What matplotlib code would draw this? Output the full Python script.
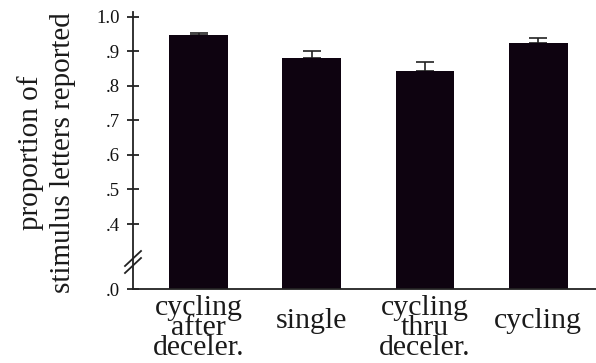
import matplotlib
matplotlib.use("Agg")
import matplotlib.pyplot as plt
import matplotlib.transforms as mtransforms
import numpy as np

# Data
conditions = ["cycling\nafter\ndeceler.", "single", "cycling\nthru\ndeceler.", "cycling"]
proportions = [0.946, 0.881, 0.843, 0.923]
errors_upper = [0.008, 0.020, 0.025, 0.015]
tick_values = [0.0, 0.4, 0.5, 0.6, 0.7, 0.8, 0.9, 1.0]
tick_labels = [".0", ".4", ".5", ".6", ".7", ".8", ".9", "1.0"]

BAR_COLOR = "#0e0310"
INK = "#1a1a1a"
SERIF = ["Liberation Serif", "DejaVu Serif"]

# Broken axis: the span 0 .. 0.4 is compressed into a short segment
BREAK = 0.4
LOW_POS = 0.212


def forward(y):
    y = np.asarray(y, dtype=float)
    return np.where(y >= BREAK, y, LOW_POS + y * (BREAK - LOW_POS) / BREAK)


def inverse(v):
    v = np.asarray(v, dtype=float)
    return np.where(v >= BREAK, v, (v - LOW_POS) * BREAK / (BREAK - LOW_POS))


W, H = 596, 363
AX_L, AX_B, AX_T = 133, 289, 12
fig = plt.figure(figsize=(W / 100, H / 100), dpi=100)
ax = fig.add_axes([AX_L / W, (H - AX_B) / H, (W - AX_L) / W, (AX_B - AX_T) / H])
ax.set_yscale("function", functions=(forward, inverse))

x = np.arange(len(conditions))
ax.bar(x, proportions, width=0.52, color=BAR_COLOR, zorder=2)
ax.errorbar(x, proportions, yerr=[np.zeros(len(errors_upper)), errors_upper],
            fmt="none", ecolor="#222222", elinewidth=1.2, capsize=6.5,
            capthick=1.2, zorder=1)

ax.set_xlim(-0.579, 3.51)
ax.set_ylim(0.0, 1.0136)

for side in ("top", "right"):
    ax.spines[side].set_visible(False)
for side in ("left", "bottom"):
    ax.spines[side].set_linewidth(1.3)
    ax.spines[side].set_color("#222222")

ax.set_yticks(tick_values)
ax.set_yticklabels(tick_labels, fontfamily=SERIF, fontsize=13.5, color="#111111")
ax.tick_params(axis="y", direction="inout", length=9, width=1.3,
               color="#222222", pad=5)
ax.set_xticks([])

# Break marks on the y axis (two short parallel slashes)
ax_w = W - AX_L
ax_h = AX_B - AX_T
yc = 27 / ax_h
for dy in (-3.5, 3.5):
    ax.plot([-8 / ax_w, 8 / ax_w],
            [yc + (dy - 7.5) / ax_h, yc + (dy + 7.5) / ax_h],
            transform=ax.transAxes, color="#222222", lw=1.3,
            clip_on=False, zorder=5)

# Category labels beneath the bars
lab_trans = mtransforms.blended_transform_factory(ax.transData, fig.transFigure)
for xi, lab in zip(x, conditions):
    yc_lab = (H - 328) / H if "\n" in lab else (H - 321) / H
    ax.text(xi, yc_lab, lab, transform=lab_trans, ha="center", va="center",
            fontfamily=SERIF, fontsize=21.5, linespacing=0.68, color=INK)

fig.text(47 / W, (H - 153) / H, "proportion of\nstimulus letters reported",
         rotation=90, ha="center", va="center", fontfamily=SERIF,
         fontsize=21, linespacing=1.3, color=INK)

fig.savefig("out.png", dpi=100)
